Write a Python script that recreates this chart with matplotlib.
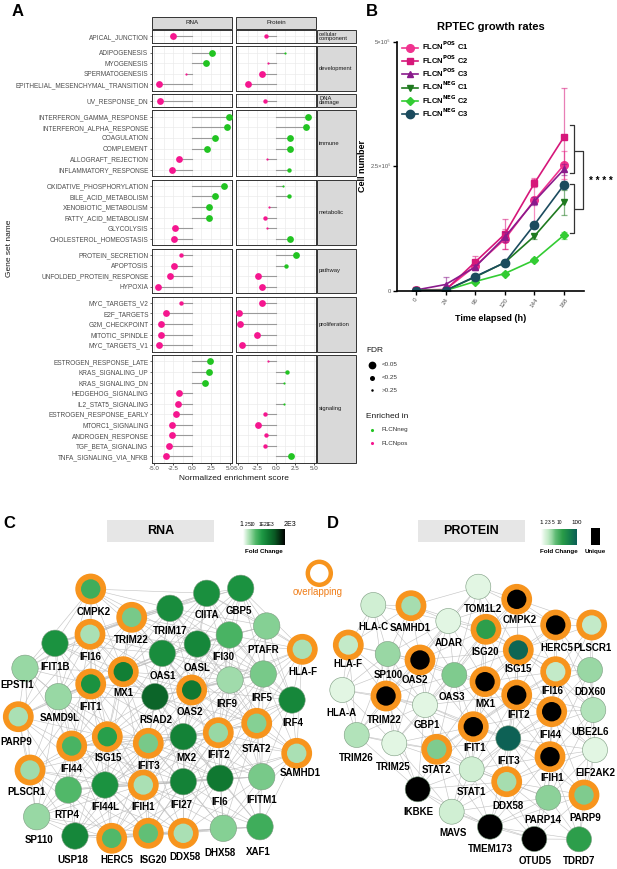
import numpy as np
import matplotlib.pyplot as plt
from matplotlib import colors
from matplotlib.patches import Rectangle, Circle
from matplotlib.collections import LineCollection

plt.rcParams['font.family'] = ['Liberation Sans', 'DejaVu Sans']

W, H = 617, 869

# ---------------- panel A : GSEA hallmark lollipops ----------------
categories = ['cellular\ncomponent', 'development', 'DNA\ndamage', 'immune',
              'metabolic', 'pathway', 'proliferation', 'signaling']
gene_sets = [
    ['APICAL_JUNCTION'],
    ['ADIPOGENESIS', 'MYOGENESIS', 'SPERMATOGENESIS', 'EPITHELIAL_MESENCHYMAL_TRANSITION'],
    ['UV_RESPONSE_DN'],
    ['INTERFERON_GAMMA_RESPONSE', 'INTERFERON_ALPHA_RESPONSE', 'COAGULATION', 'COMPLEMENT',
     'ALLOGRAFT_REJECTION', 'INFLAMMATORY_RESPONSE'],
    ['OXIDATIVE_PHOSPHORYLATION', 'BILE_ACID_METABOLISM', 'XENOBIOTIC_METABOLISM',
     'FATTY_ACID_METABOLISM', 'GLYCOLYSIS', 'CHOLESTEROL_HOMEOSTASIS'],
    ['PROTEIN_SECRETION', 'APOPTOSIS', 'UNFOLDED_PROTEIN_RESPONSE', 'HYPOXIA'],
    ['MYC_TARGETS_V2', 'E2F_TARGETS', 'G2M_CHECKPOINT', 'MITOTIC_SPINDLE', 'MYC_TARGETS_V1'],
    ['ESTROGEN_RESPONSE_LATE', 'KRAS_SIGNALING_UP', 'KRAS_SIGNALING_DN', 'HEDGEHOG_SIGNALING',
     'IL2_STAT5_SIGNALING', 'ESTROGEN_RESPONSE_EARLY', 'MTORC1_SIGNALING', 'ANDROGEN_RESPONSE',
     'TGF_BETA_SIGNALING', 'TNFA_SIGNALING_VIA_NFKB'],
]
rna_nes = [-2.5,
           2.65, 1.8, -0.77, -4.4,
           -4.3,
           4.9, 4.6, 3.0, 2.0, -1.7, -2.6,
           4.3, 3.0, 2.3, 2.2, -2.25, -2.35,
           -1.4, -2.4, -2.9, -4.45,
           -1.4, -3.4, -4.1, -4.15, -4.4,
           2.4, 2.3, 1.7, -1.75, -1.9, -2.15, -2.65, -2.7, -3.1, -3.5]
rna_fdr = ['<0.05',
           '<0.05', '<0.05', '>0.25', '<0.05',
           '<0.05',
           '<0.05', '<0.05', '<0.05', '<0.05', '<0.05', '<0.05',
           '<0.05', '<0.05', '<0.05', '<0.05', '<0.05', '<0.05',
           '<0.25', '<0.05', '<0.05', '<0.05',
           '<0.25', '<0.05', '<0.05', '<0.05', '<0.05',
           '<0.05', '<0.05', '<0.05', '<0.05', '<0.05', '<0.05', '<0.05', '<0.05', '<0.05', '<0.05']
prot_nes = [-1.35,
            1.25, -1.1, -1.9, -3.75,
            -1.4,
            4.3, 4.0, 1.9, 1.9, -1.25, 1.7,
            0.9, 1.75, -0.9, -1.4, -1.15, 1.9,
            2.7, 1.35, -2.4, -1.8,
            -1.9, -4.95, -4.8, -2.5, -4.45,
            -1.05, 1.4, 1.0, np.nan, 1.0, -1.4, -2.35, -1.35, -1.4, 1.95]
prot_fdr = ['<0.25',
            '>0.25', '>0.25', '<0.05', '<0.05',
            '<0.25',
            '<0.05', '<0.05', '<0.05', '<0.05', '>0.25', '<0.25',
            '>0.25', '<0.25', '>0.25', '<0.25', '>0.25', '<0.05',
            '<0.05', '<0.25', '<0.05', '<0.05',
            '<0.05', '<0.05', '<0.05', '<0.05', '<0.05',
            '>0.25', '<0.25', '>0.25', None, '>0.25', '<0.25', '<0.05', '<0.25', '<0.25', '<0.05']
fdr_levels = ['<0.05', '<0.25', '>0.25']
enriched_levels = ['FLCNneg', 'FLCNpos']

# ---------------- panel B : growth curves ----------------
time_labels = ['0', '24', '96', '120', '144', '168']
growth_labels = [r'FLCN$^{\mathbf{POS}}$ C1', r'FLCN$^{\mathbf{POS}}$ C2', r'FLCN$^{\mathbf{POS}}$ C3',
                 r'FLCN$^{\mathbf{NEG}}$ C1', r'FLCN$^{\mathbf{NEG}}$ C2', r'FLCN$^{\mathbf{NEG}}$ C3']
growth_mean = [  # cells x 1e5
    [0.02, 0.03, 0.50, 1.04, 1.82, 2.53],
    [0.02, 0.02, 0.58, 1.14, 2.16, 3.09],
    [0.02, 0.13, 0.48, 1.08, 1.80, 2.44],
    [0.01, 0.01, 0.28, 0.57, 1.10, 1.78],
    [0.01, 0.01, 0.19, 0.35, 0.62, 1.12],
    [0.01, 0.01, 0.29, 0.57, 1.33, 2.13],
]
growth_err = [
    [0.01, 0.02, 0.08, 0.20, 0.45, 0.28],
    [0.01, 0.02, 0.12, 0.30, 0.08, 0.98],
    [0.01, 0.15, 0.05, 0.10, 0.08, 0.12],
    [0.01, 0.01, 0.03, 0.05, 0.05, 0.25],
    [0.01, 0.01, 0.02, 0.03, 0.04, 0.07],
    [0.01, 0.01, 0.03, 0.06, 0.06, 0.07],
]

# ---------------- panels C / D : interaction networks ----------------
rna_names = ['CMPK2', 'TRIM22', 'IFI16', 'TRIM17', 'CIITA', 'GBP5', 'IFI30', 'PTAFR', 'OAS1', 'OASL',
             'IFIT1B', 'EPSTI1', 'SAMD9L', 'MX1', 'IFIT1', 'RSAD2', 'OAS2', 'IRF9', 'IRF5', 'HLA-F',
             'IRF4', 'PARP9', 'IFI44', 'ISG15', 'IFIT3', 'MX2', 'IFIT2', 'STAT2', 'SAMHD1', 'PLSCR1',
             'RTP4', 'IFI44L', 'IFIH1', 'IFI27', 'IFI6', 'IFITM1', 'SP110', 'USP18', 'HERC5', 'ISG20',
             'DDX58', 'DHX58', 'XAF1']
rna_fold = [15, 6, 3, 50, 45, 40, 12, 5, 50, 60,
            40, 4, 4, 80, 40, 200, 100, 3.5, 6, 3,
            60, 3, 12, 25, 6, 70, 4, 5, 3, 3.5,
            10, 40, 3, 70, 100, 6, 4, 60, 10, 8,
            3, 5, 15]
prot_names = ['TOM1L2', 'CMPK2', 'HLA-C', 'SAMHD1', 'ADAR', 'ISG20', 'HERC5', 'PLSCR1', 'HLA-F', 'SP100',
              'OAS2', 'OAS3', 'ISG15', 'IFI16', 'DDX60', 'HLA-A', 'TRIM22', 'MX1', 'IFIT2', 'IFI44',
              'UBE2L6', 'GBP1', 'TRIM26', 'TRIM25', 'IFIT1', 'IFIT3', 'STAT2', 'IFIH1', 'EIF2AK2', 'IKBKE',
              'STAT1', 'DDX58', 'PARP14', 'PARP9', 'MAVS', 'TMEM173', 'OTUD5', 'TDRD7']
prot_fold = [1.5, None, 2, 3.5, 1.5, 15, None, 2.5, 2.5, 4,
             None, 5, 80, 2.5, 4, 1.5, None, None, None, None,
             3, 1.5, 3, 1.5, None, 90, 5, None, 1.5, None,
             2, 3.5, 4.5, 5, 2, None, None, 15]   # None = unique to protein
overlapping = ['CMPK2', 'TRIM22', 'IFI16', 'MX1', 'IFIT1', 'OAS2', 'HLA-F', 'PARP9', 'IFI44', 'ISG15',
               'IFIT3', 'IFIT2', 'STAT2', 'SAMHD1', 'PLSCR1', 'IFIH1', 'HERC5', 'ISG20', 'DDX58']
prot_only_overlap_excl = ['IFIT3']  # IFIT3 not ringed in protein network

# node layout (x, y, label x, label y) in pixels
rna_layout = {
    'CMPK2': (90.7, 589, 93.3, 611.7), 'TRIM22': (131.7, 617.3, 131.7, 640), 'IFI16': (90, 634.3, 90.7, 657.3),
    'TRIM17': (170, 608.3, 170, 630.7), 'CIITA': (206.7, 593.3, 206.7, 615), 'GBP5': (240.7, 588.3, 239.3, 610.7),
    'IFI30': (229.3, 635, 223.3, 657.3), 'PTAFR': (266.7, 626, 263.3, 650), 'OAS1': (162.3, 653.3, 163.3, 676),
    'OASL': (197.3, 644, 196.7, 668.3), 'IFIT1B': (55, 643.3, 55, 666.7), 'EPSTI1': (25, 668.3, 16.7, 685),
    'SAMD9L': (58.3, 696.7, 60, 718.3), 'MX1': (123.3, 671.7, 123.3, 693.3), 'IFIT1': (90.7, 684, 90.7, 706.7),
    'RSAD2': (155, 696.7, 156, 720), 'OAS2': (191.7, 690, 190, 711.7), 'IRF9': (230, 680, 226.7, 704),
    'IRF5': (263.3, 674, 262, 698), 'HLA-F': (302.3, 649.3, 303, 672), 'IRF4': (292, 700, 293.3, 723.3),
    'PARP9': (18.3, 716.7, 16.7, 741.7), 'IFI44': (71.7, 746, 71.7, 769.3), 'ISG15': (107.3, 736.7, 108.3, 758.3),
    'IFIT3': (148.3, 743.3, 148.3, 766), 'MX2': (183.3, 736.7, 186.7, 758.3), 'IFIT2': (218.3, 732.7, 219, 755),
    'STAT2': (256.7, 723.3, 256.7, 749.3), 'SAMHD1': (296.7, 753.3, 300, 773), 'PLSCR1': (30, 770, 26.7, 792.3),
    'RTP4': (68.3, 790, 66.7, 815), 'IFI44L': (105, 785, 105, 806.7), 'IFIH1': (143.3, 785, 143.3, 806.7),
    'IFI27': (183.3, 781.7, 181.7, 805), 'IFI6': (220, 778.3, 220, 802.3), 'IFITM1': (261.7, 776.7, 261.7, 800),
    'SP110': (36.7, 816.7, 39.3, 840), 'USP18': (75, 836, 73.3, 860), 'HERC5': (111.7, 838.3, 116.7, 860),
    'ISG20': (148.3, 833.3, 153.3, 860), 'DDX58': (183.3, 833.3, 185, 856.7), 'DHX58': (223.3, 828.3, 220, 853.3),
    'XAF1': (260, 826.7, 258.3, 851.7),
}
prot_layout = {
    'TOM1L2': (478.3, 586.7, 483.3, 609.3), 'CMPK2': (516.7, 599.3, 520, 620), 'HLA-C': (373.3, 605, 373.3, 627.3),
    'SAMHD1': (411, 605.7, 410, 628.3), 'ADAR': (448.3, 621, 448.3, 643.3), 'ISG20': (486, 629.3, 485, 651.7),
    'HERC5': (555.7, 625, 556.7, 648.3), 'PLSCR1': (591.7, 625, 592.3, 648.3), 'HLA-F': (348.3, 645, 348.3, 664),
    'SP100': (387.7, 654, 388.3, 675), 'OAS2': (420, 660, 415, 680), 'OAS3': (454.3, 675, 451.7, 696.7),
    'ISG15': (518.3, 650, 518.3, 669.3), 'IFI16': (555.7, 671.7, 552.3, 690.7), 'DDX60': (590, 670, 590, 691.7),
    'HLA-A': (342.3, 690, 341.7, 713.3), 'TRIM22': (386, 696, 384.3, 720), 'MX1': (485, 681.7, 485, 704),
    'IFIT2': (516.7, 695, 518.3, 715), 'IFI44': (551.7, 711.7, 550, 735), 'UBE2L6': (593.3, 710, 590, 731.7),
    'GBP1': (425, 705, 426.7, 725), 'TRIM26': (356.7, 735, 356.7, 758.3), 'TRIM25': (394.3, 743.3, 393.3, 766.7),
    'IFIT1': (473.3, 726.7, 474.3, 748.3), 'IFIT3': (508.3, 738.3, 508.3, 760.7), 'STAT2': (436.7, 749.3, 436.7, 770),
    'IFIH1': (550, 756.7, 551.7, 778.3), 'EIF2AK2': (595, 750, 595, 772.7), 'IKBKE': (417.7, 789.3, 418.3, 811.7),
    'STAT1': (471.7, 769.3, 471.7, 791.7), 'DDX58': (506.7, 781.7, 508.3, 805.7), 'PARP14': (548.3, 797.7, 543.3, 820),
    'PARP9': (584, 795, 585, 817.7), 'MAVS': (451.7, 811.7, 453.3, 833.3), 'TMEM173': (490, 826.7, 490, 849.3),
    'OTUD5': (534.3, 839, 535, 861), 'TDRD7': (579, 839.3, 579, 861),
}

PINK = '#f5168f'
GREEN = '#22c422'
ORANGE = '#f7941d'
dot_size = {'<0.05': 24, '<0.25': 10, '>0.25': 2.5}


def px_axes(fig, x, y, w, h):
    return fig.add_axes([x / W, 1 - (y + h) / H, w / W, h / H])


fig = plt.figure(figsize=(W / 100, H / 100), dpi=100)

# ---- panel A facets
unit, gap, top = 10.56, 3.6, 30
cols = [(152, 'RNA', rna_nes, rna_fdr), (236, 'Protein', prot_nes, prot_fdr)]
facet_boxes = []
k0 = 0
y = top
for r, (cat, sets) in enumerate(zip(categories, gene_sets)):
    n = len(sets)
    h = (n + 0.2) * unit
    facet_boxes.append((y, h))
    for c, (x0, cname, nes, fdr) in enumerate(cols):
        ax = px_axes(fig, x0, y, 80, h)
        vals = nes[k0:k0 + n]
        fd = fdr[k0:k0 + n]
        pos = np.arange(1, n + 1)
        for p, v, f in zip(pos, vals, fd):
            if f is None or np.isnan(v):
                continue
            ax.plot([0, v], [p, p], color='#9a9a9a', lw=0.8, zorder=2)
            ax.scatter(v, p, s=dot_size[f], color=GREEN if v > 0 else PINK, zorder=3, linewidths=0)
        ax.set_xlim(-5.3, 5.3)
        ax.set_ylim(n + 0.6, 0.4)
        ax.set_xticks([-5, -2.5, 0, 2.5, 5])
        ax.set_xticks([-3.75, -1.25, 1.25, 3.75], minor=True)
        ax.set_yticks(pos)
        ax.grid(True, which='both', color='#ebebeb', lw=0.5, zorder=0)
        ax.set_axisbelow(True)
        for s in ax.spines.values():
            s.set_color('#333333')
            s.set_linewidth(0.7)
        ax.tick_params(which='minor', length=0)
        if c == 0:
            ax.set_yticklabels(sets, fontsize=4.7, color='#4d4d4d')
            ax.tick_params(axis='y', length=1.5, width=0.5, color='#333333', pad=1)
        else:
            ax.tick_params(axis='y', length=0, labelleft=False)
        if r == len(categories) - 1:
            ax.set_xticklabels(['-5.0', '-2.5', '0.0', '2.5', '5.0'], fontsize=4.5, color='#4d4d4d')
            ax.tick_params(axis='x', length=1.5, width=0.5, pad=1)
        else:
            ax.tick_params(axis='x', length=0, labelbottom=False)
    k0 += n
    y += h + gap

# ---- panel B
axB = px_axes(fig, 397, 42, 187, 249)
bcolors = ['#f0338f', '#d6177a', '#8a1a8c', '#1f7a1f', '#33cc33', '#1b4b5e']
bmarkers = ['o', 's', '^', 'v', 'D', 'o']
bms = [5.5, 5, 5, 5, 3.8, 6]
xs = np.arange(len(time_labels))
handles = []
for mean, err, col, mk, ms, lab in zip(growth_mean, growth_err, bcolors, bmarkers, bms, growth_labels):
    m = np.array(mean) * 1e5
    e = np.array(err) * 1e5
    axB.errorbar(xs, m, yerr=e, fmt='none', ecolor=col, alpha=0.55, capsize=2.2, elinewidth=0.9, capthick=0.9)
    ln, = axB.plot(xs, m, marker=mk, color=col, lw=1.2, ms=ms, label=lab)
    handles.append(ln)
axB.set_xlim(-0.64, 5.68)
axB.set_ylim(0, 5e5)
axB.set_xticks(xs)
axB.set_xticklabels(time_labels, rotation=55, fontsize=4.5, color='#555555', ha='center', va='top')
axB.set_yticks([0, 2.5e5, 5e5])
axB.set_yticklabels(['0', '2.5×10⁵', '5×10⁵'], fontsize=4.2, color='#555555')
for s in ['top', 'right']:
    axB.spines[s].set_visible(False)
for s in ['left', 'bottom']:
    axB.spines[s].set_linewidth(1.2)
axB.tick_params(width=1, length=3, pad=1.5)
axB.set_xlabel('Time elapsed (h)', fontsize=6.5, fontweight='bold', labelpad=4)
axB.set_ylabel('Cell number', fontsize=6.5, fontweight='bold', labelpad=2)
axB.set_title('RPTEC growth rates', fontsize=8, fontweight='bold', pad=9)
axB.legend(handles=handles, loc='upper left', bbox_to_anchor=(0.0, 1.03), frameon=False,
           prop=dict(size=5.5, weight='bold'), handlelength=2.0, labelspacing=0.12,
           handletextpad=0.6, borderaxespad=0.3)


def bracket(ax, x, y0, y1, arm):
    ax.plot([x - arm, x, x, x - arm], [y0, y0, y1, y1], color='#333333', lw=0.9, clip_on=False)


bracket(axB, 5.35, 3.33e5, 2.37e5, 0.15)
bracket(axB, 5.35, 2.15e5, 1.16e5, 0.15)
bracket(axB, 5.63, 2.82e5, 1.65e5, 0.27)
axB.text(6.25, 2.21e5, '* * * *', fontsize=7, fontweight='bold', ha='center', va='center', clip_on=False)

# ---- overlay in pixel coordinates
ov = fig.add_axes([0, 0, 1, 1])
ov.set_xlim(0, W)
ov.set_ylim(H, 0)
ov.axis('off')

for lab, xx, yy in [('A', 18, 12), ('B', 372, 12), ('C', 9, 523), ('D', 333, 523)]:
    ov.text(xx, yy, lab, fontsize=12, fontweight='bold', ha='center', va='center')

# panel A strips
for x0, cname, _, _ in cols:
    ov.add_patch(Rectangle((x0, 17), 80, 12, facecolor='#d9d9d9', edgecolor='#333333', lw=0.7))
    ov.text(x0 + 40, 23, cname, fontsize=4.5, ha='center', va='center', color='#1a1a1a')
for (yy, hh), cat in zip(facet_boxes, categories):
    ov.add_patch(Rectangle((317, yy), 39, hh, facecolor='#d9d9d9', edgecolor='#333333', lw=0.7))
    ov.text(319, yy + hh / 2, cat, fontsize=4.2, ha='left', va='center', color='#1a1a1a', linespacing=0.9)
ov.text(234, 478, 'Normalized enrichment score', fontsize=6, ha='center', va='center', color='#1a1a1a')
ov.text(10, 248, 'Gene set name', fontsize=6, rotation=90, ha='center', va='center', color='#1a1a1a')

# panel A legends
ov.text(366, 350, 'FDR', fontsize=6, ha='left', va='center', color='#1a1a1a')
for i, lev in enumerate(fdr_levels):
    ov.scatter(372, 365 + 12.7 * i, s=dot_size[lev] * 1.3, color='black', linewidths=0)
    ov.text(382, 365 + 12.7 * i, lev, fontsize=4.5, ha='left', va='center', color='#333333')
ov.text(366, 416, 'Enriched in', fontsize=6, ha='left', va='center', color='#1a1a1a')
for i, (lev, col) in enumerate(zip(enriched_levels, [GREEN, PINK])):
    ov.scatter(372, 430 + 13 * i, s=5, color=col, linewidths=0)
    ov.text(382, 430 + 13 * i, lev, fontsize=4.5, ha='left', va='center', color='#333333')

# network colour scales
rna_cmap = colors.LinearSegmentedColormap.from_list('rna', [
    (0, '#ffffff'), (0.1, '#c2eac8'), (0.18, '#98d8a4'), (0.3, '#52b869'),
    (0.45, '#1f9a45'), (0.6, '#107a32'), (0.75, '#0a5a24'), (1.0, '#000000')])
prot_cmap = colors.LinearSegmentedColormap.from_list('prot', [
    (0, '#ffffff'), (0.1, '#ddf4df'), (0.2, '#c2eac7'), (0.3, '#9ad8a5'),
    (0.4, '#62bd77'), (0.6, '#2a9c48'), (0.8, '#15804c'), (1.0, '#0c5e56')])
rna_norm = colors.LogNorm(1, 2000)
prot_norm = colors.LogNorm(1, 100)


def draw_network(ax, names, fold, layout, norm, cmap, radius, dmax, ring_set):
    pts = np.array([layout[nm][:2] for nm in names])
    segs = []
    for i in range(len(pts)):
        for j in range(i + 1, len(pts)):
            if np.hypot(*(pts[i] - pts[j])) < dmax:
                segs.append([pts[i], pts[j]])
    ax.add_collection(LineCollection(segs, colors='#bcbcbc', linewidths=0.45, alpha=0.85, zorder=2))
    for nm, fc in zip(names, fold):
        x, y, lx, ly = layout[nm]
        fill = 'black' if fc is None else cmap(norm(fc))
        if nm in ring_set:
            ax.add_patch(Circle((x, y), 14.7, color=ORANGE, zorder=3))
            ax.add_patch(Circle((x, y), 9.7, facecolor=fill, edgecolor='none', zorder=4))
        else:
            ax.add_patch(Circle((x, y), radius, facecolor=fill, edgecolor='#7a9a7e', lw=0.4, zorder=3))
        ax.text(lx, ly, nm, fontsize=7, fontweight='bold', ha='center', va='center', zorder=5)


draw_network(ov, rna_names, rna_fold, rna_layout, rna_norm, rna_cmap, 13.2, 125, set(overlapping))
draw_network(ov, prot_names, prot_fold, prot_layout, prot_norm, prot_cmap, 12.5, 100,
             set(overlapping) - set(prot_only_overlap_excl))

# headers and colour bars
ov.add_patch(Rectangle((107, 520), 107, 22, facecolor='#e6e6e6', edgecolor='none'))
ov.text(160.5, 531, 'RNA', fontsize=9, fontweight='bold', ha='center', va='center')
ov.add_patch(Rectangle((418, 520), 107, 22, facecolor='#e6e6e6', edgecolor='none'))
ov.text(471.5, 531, 'PROTEIN', fontsize=9, fontweight='bold', ha='center', va='center')

grad = np.linspace(0, 1, 256)[None, :]
ov.imshow(rna_cmap(grad), extent=(243, 285, 545, 529), aspect='auto', zorder=3)
for t, xx, fs in [('1', 241.7, 5), ('2', 245.7, 3.5), ('5', 249.5, 3.5), ('10', 252.5, 3.5),
                  ('1E2', 263, 3.5), ('1E3', 270, 3.5), ('2E3', 290, 5)]:
    ov.text(xx, 525, t, fontsize=fs, ha='center', va='center')
ov.text(264, 552, 'Fold Change', fontsize=4.5, fontweight='bold', ha='center', va='center')

ov.imshow(prot_cmap(grad), extent=(541, 577, 545, 529), aspect='auto', zorder=3)
for v in [1, 2, 3, 5, 10, 100]:
    xx = 541 + 36 * np.log10(v) / 2
    ov.text(xx, 523, str(v), fontsize=4.5 if v in (1, 100) else 3.5, ha='center', va='center')
ov.text(559, 552, 'Fold Change', fontsize=4.5, fontweight='bold', ha='center', va='center')
ov.add_patch(Rectangle((591, 528), 9, 17, facecolor='black', zorder=3))
ov.text(595.5, 552, 'Unique', fontsize=4.5, fontweight='bold', ha='center', va='center')

# overlapping legend
ov.add_patch(Circle((319.3, 573.3), 11.5, facecolor='white', edgecolor=ORANGE, lw=3.2, zorder=3))
ov.text(318, 592, 'overlapping', fontsize=7, color='#f07f1a', ha='center', va='center')

ov.set_xlim(0, W)
ov.set_ylim(H, 0)
fig.savefig('out.png', dpi=100)
